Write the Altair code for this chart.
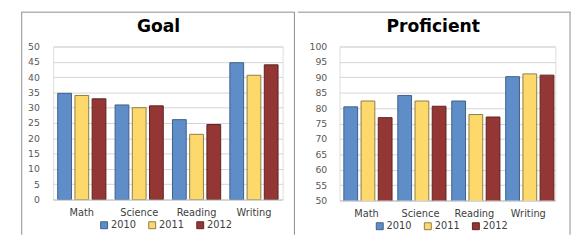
import altair as alt
import pandas as pd

subjects = ["Math", "Science", "Reading", "Writing"]
years = ["2010", "2011", "2012"]
goal_2010 = [34.7, 30.9, 26.1, 44.7]
goal_2011 = [34.0, 30.0, 21.3, 40.6]
goal_2012 = [32.9, 30.6, 24.5, 44.0]
prof_2010 = [80.4, 84.1, 82.3, 90.2]
prof_2011 = [82.3, 82.3, 77.9, 91.1]
prof_2012 = [76.9, 80.6, 77.1, 90.7]

fills = ["#5F8DC8", "#FDD96C", "#943634"]
strokes = ["#3C5F8C", "#8C7C48", "#5A2424"]
FONT = "DejaVu Sans"


def make_df(a, b, c):
    rows = []
    for y, vals in zip(years, [a, b, c]):
        for s, v in zip(subjects, vals):
            rows.append({"Subject": s, "Year": y, "Value": v})
    return pd.DataFrame(rows)


def panel(title, df, lo, hi, w, h, left, right, legend_x, show_left, show_right,
          title_cx, ylab_pad):
    base = alt.Chart(df)
    bars = base.mark_bar(strokeWidth=1, clip=True).encode(
        x=alt.X("Subject:N", sort=subjects, title=None,
                scale=alt.Scale(paddingInner=0.16, paddingOuter=0.08),
                axis=alt.Axis(labelAngle=0, labelFontSize=10, labelColor="#404040",
                              labelPadding=8, ticks=False, domain=True,
                              domainColor="#C8C8C8", labelFont=FONT)),
        xOffset=alt.XOffset("Year:N", sort=years,
                            scale=alt.Scale(paddingInner=0.2, paddingOuter=0.0)),
        y=alt.Y("Value:Q", title=None,
                scale=alt.Scale(domain=[lo, hi], nice=False, zero=False),
                axis=alt.Axis(values=list(range(lo, hi + 1, 5)), labelFontSize=9.5,
                              labelColor="#595959", labelPadding=ylab_pad, ticks=False,
                              domain=False, gridColor="#D4D4D4", labelFont=FONT)),
        color=alt.Color("Year:N", sort=years,
                        scale=alt.Scale(domain=years, range=fills),
                        legend=alt.Legend(title=None, orient="none", direction="horizontal",
                                          legendX=legend_x, legendY=h + 21,
                                          symbolType="square", symbolSize=50,
                                          symbolStrokeColor="#7F7F7F", symbolStrokeWidth=1,
                                          labelFontSize=10, labelColor="#404040",
                                          labelFont=FONT, columnPadding=10,
                                          labelOffset=2)),
        stroke=alt.Stroke("Year:N", sort=years,
                          scale=alt.Scale(domain=years, range=strokes), legend=None),
    )
    bd = pd.DataFrame({"k": [0]})
    border_c = "#8C8C8C"
    lrule = alt.Chart(bd).mark_rule(color=border_c, strokeWidth=1,
                                    strokeOpacity=1 if show_left else 0).encode(
        x=alt.value(-left), y=alt.value(-35), y2=alt.value(192))
    rrule = alt.Chart(bd).mark_rule(color=border_c, strokeWidth=1,
                                    strokeOpacity=1 if show_right else 0).encode(
        x=alt.value(w + right), y=alt.value(-35), y2=alt.value(192))
    trule = alt.Chart(bd).mark_rule(color=border_c, strokeWidth=1,
                                    strokeCap="square").encode(
        x=alt.value(-left), x2=alt.value(w + right), y=alt.value(-35))
    ttl = alt.Chart(bd).mark_text(fontSize=17.5, fontWeight="bold", font=FONT,
                                  color="#000000", align="center",
                                  baseline="alphabetic").encode(
        x=alt.value(title_cx), y=alt.value(-15), text=alt.value(title))
    return alt.layer(bars, lrule, rrule, trule, ttl).properties(width=w, height=h)


left_panel = panel("Goal", make_df(goal_2010, goal_2011, goal_2012), 0, 50,
                   234, 156, 32, 12, 47, True, True, 160.5 - 53, 14)
right_panel = panel("Proficient", make_df(prof_2010, prof_2011, prof_2012), 50, 100,
                    220, 157, 42, 15, 36, False, True, 437.5 - 342, 13)

chart = alt.hconcat(left_panel, right_panel, spacing=0).resolve_scale(
    color="independent", stroke="independent", y="independent", x="independent"
).properties(
    padding={"left": 12, "top": 0, "right": 0, "bottom": 0}
).configure_view(stroke=None).configure(background="white")

chart.save("out.html", embed_options={"renderer": "svg", "actions": False})
